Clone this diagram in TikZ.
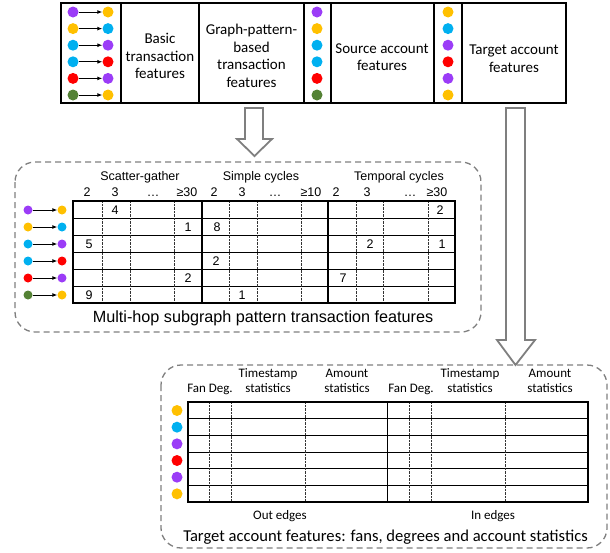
\documentclass[tikz,border=0pt]{standalone}
\usepackage{fontspec}
\setmainfont{Carlito}
\newfontfamily\arialfont{Liberation Sans}
\usetikzlibrary{arrows.meta}

\definecolor{cpurple}{HTML}{9B3CF7}
\definecolor{cyellow}{HTML}{FFC000}
\definecolor{cblue}{HTML}{00B0F0}
\definecolor{cred}{HTML}{FF0000}
\definecolor{cgreen}{HTML}{548235}
\definecolor{framegray}{HTML}{7F7F7F}

\begin{document}
\begin{tikzpicture}[x=1pt,y=-1pt,
  bigdot/.style={circle,inner sep=0pt,minimum size=11pt,draw=none},
  smalldot/.style={circle,inner sep=0pt,minimum size=9pt,draw=none},
  edgearrow/.style={-{Latex[length=5pt,width=4pt]},line width=0.9pt,black},
  toplabel/.style={inner sep=0pt,align=center,font=\fontsize{15}{17.6}\selectfont},
  hdrA/.style={inner sep=0pt,font=\arialfont\fontsize{12.5}{14}\selectfont},
  cellA/.style={inner sep=0pt,font=\arialfont\fontsize{12.5}{14}\selectfont},
  hdrC/.style={inner sep=0pt,align=center,font=\fontsize{13}{15}\selectfont},
  groupbox/.style={draw=framegray,line width=1.3pt,dash pattern=on 6pt off 4pt,rounded corners=20pt},
  hollow/.style={draw=framegray,fill=white,line width=1.8pt,line join=miter},
  thick frame/.style={line width=1.8pt,black},
  row rule/.style={line width=1pt,black},
  col rule/.style={line width=1.4pt,black},
  dot rule/.style={line width=0.8pt,black!80,dash pattern=on 0.7pt off 0.7pt}]
\useasboundingbox (0,0) rectangle (610,552);

% ---------------- feature strip ----------------
\draw[thick frame] (61,3) rectangle (566,103);
\foreach \x in {121,199,304,331,434,462}
  \draw[thick frame] (\x,3) -- (\x,103);

\foreach \i/\a/\b in {0/cpurple/cyellow,1/cyellow/cblue,2/cblue/cpurple,3/cblue/cred,4/cred/cpurple,5/cgreen/cyellow}{
  \node[bigdot,fill=\a] (ts\i) at (73,{12+16.6*\i}) {};
  \node[bigdot,fill=\b] (tt\i) at (108,{12+16.6*\i}) {};
  \draw[edgearrow] (ts\i) -- (tt\i);
}
\foreach \i/\a in {0/cpurple,1/cyellow,2/cblue,3/cblue,4/cred,5/cgreen}
  \node[bigdot,fill=\a] (sd\i) at (317,{12+16.6*\i}) {};
\foreach \i/\a in {0/cyellow,1/cblue,2/cpurple,3/cred,4/cpurple,5/cyellow}
  \node[bigdot,fill=\a] (td\i) at (448,{12+16.6*\i}) {};

\node[toplabel] (basic) at (160,56) {Basic\\transaction\\features};
\node[toplabel] (graphpat) at (251.5,56) {Graph-pattern-\\based\\transaction\\features};
\node[toplabel] (srcacc) at (382,57) {Source account\\features};
\node[toplabel] (tgtacc) at (514,58.5) {Target account\\features};

% ---------------- hollow arrows ----------------
\draw[hollow] (245,108) -- (263,108) -- (263,139) -- (272,139) -- (254.5,156)
  -- (237,139) -- (245,139) -- cycle;
\draw[hollow] (506,108) -- (525,108) -- (525,340) -- (535,340) -- (515.5,365)
  -- (497,340) -- (506,340) -- cycle;

% ---------------- subgraph pattern group ----------------
\draw[groupbox] (15,162) rectangle (481,332);

% table rules
\foreach \y in {218,235,252,269,286}
  \draw[row rule] (73,\y) -- (455,\y);
\foreach \x in {102,130,174,229,257,301,356,383,428}
  \draw[dot rule] (\x,201) -- (\x,303);
\foreach \x in {202,328}
  \draw[col rule] (\x,201) -- (\x,303);
\draw[thick frame] (73,201) rectangle (455,303);

% column headers
\node[hdrA] (gsg) at (140,177) {Scatter-gather};
\node[hdrA] (gsc) at (261,177) {Simple cycles};
\node[hdrA] (gtc) at (399,177) {Temporal cycles};
\foreach \x/\t [count=\k] in {87/2,115/3,153/\dots,187/≥30,214/2,242/3,275/\dots,311/≥10,336/2,367/3,410/\dots,437/≥30}
  \node[hdrA,anchor=base] (h\k) at (\x,196) {\t};

% edge rows
\foreach \i/\a/\b in {0/cpurple/cyellow,1/cyellow/cblue,2/cblue/cpurple,3/cblue/cred,4/cred/cpurple,5/cgreen/cyellow}{
  \node[smalldot,fill=\a] (ms\i) at (28,{210+17*\i}) {};
  \node[smalldot,fill=\b] (mt\i) at (62,{210+17*\i}) {};
  \draw[edgearrow] (ms\i) -- (mt\i);
}

% counts
\foreach \x/\y/\t [count=\k] in {115/210/4,440/210/2,188/227/1,217/227/8,89/244/5,370/244/2,442/244/1,216/261/2,188/278/2,343/278/7,89/295/9,242/295/1}
  \node[cellA] (v\k) at (\x,\y) {\t};

\node[inner sep=0pt,font=\arialfont\fontsize{16.2}{18}\selectfont] (mhcap) at (263,318)
  {Multi-hop subgraph pattern transaction features};

% ---------------- target account group ----------------
\draw[groupbox] (161,365) rectangle (607,548);

\foreach \i in {1,...,5}
  \draw[row rule] (188,{402+16.67*\i}) -- (588,{402+16.67*\i});
\foreach \x in {209,231,305,409,431,505}
  \draw[dot rule] (\x,402) -- (\x,502);
\draw[col rule] (387.5,402) -- (387.5,502);
\draw[thick frame] (188,402) rectangle (588,502);

\node[hdrC] (ofd) at (210,389) {Fan Deg.};
\node[hdrC] (ots) at (268,381) {Timestamp\\statistics};
\node[hdrC] (oam) at (347,381) {Amount\\statistics};
\node[hdrC] (ifd) at (411,389) {Fan Deg.};
\node[hdrC] (its) at (470,381) {Timestamp\\statistics};
\node[hdrC] (iam) at (550,381) {Amount\\statistics};

\foreach \i/\a in {0/cyellow,1/cblue,2/cpurple,3/cred,4/cpurple,5/cyellow}
  \node[bigdot,fill=\a] (ad\i) at (177,{410.5+16.67*\i}) {};

\node[hdrC] (oedge) at (280,516) {Out edges};
\node[hdrC] (iedge) at (493,516) {In edges};
\node[inner sep=0pt,font=\fontsize{16.6}{19}\selectfont] (tacap) at (385.5,537)
  {Target account features: fans, degrees and account statistics};
\end{tikzpicture}
\end{document}
